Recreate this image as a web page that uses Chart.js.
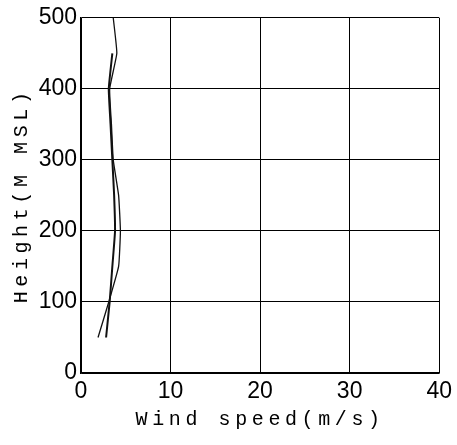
<!DOCTYPE html>
<html>
<head>
<meta charset="utf-8">
<script src="https://cdn.jsdelivr.net/npm/chart.js@4.4.1/dist/chart.umd.min.js"></script>
<style>
  html, body { margin: 0; padding: 0; background: #fff; }
  #wrap { width: 457px; height: 445px; }
</style>
</head>
<body>
<div id="wrap"><canvas id="windChart" width="457" height="445"></canvas></div>
<script>
// wind profile data
var heights1 = [500, 450, 400, 350, 300, 250, 200, 150, 100, 50];
var speeds1 = [3.6, 4.0, 3.2, 3.4, 3.6, 4.2, 4.4, 4.2, 3.1, 1.9];
var heights2 = [450, 400, 350, 300, 250, 200, 150, 100, 50];
var speeds2 = [3.5, 3.1, 3.3, 3.5, 3.7, 3.8, 3.5, 3.2, 2.8];

var xTicks = [0, 10, 20, 30, 40];
var yTicks = [0, 100, 200, 300, 400, 500];

function toPoints(speeds, heights) {
  return speeds.map(function (s, i) { return { x: s, y: heights[i] }; });
}

// spaced lettering for the axis titles only (labels are drawn later, at z=1)
var spacing = {
  id: 'spacing',
  beforeDraw: function (chart) { chart.ctx.letterSpacing = '4.6px'; },
  beforeDatasetsDraw: function (chart) { chart.ctx.letterSpacing = '0px'; }
};

var ctx = document.getElementById('windChart').getContext('2d');
var windChart = new Chart(ctx, {
  type: 'scatter',
  data: {
    datasets: [
      {
        label: 'Profile 1',
        data: toPoints(speeds1, heights1),
        showLine: true,
        borderColor: '#111',
        borderWidth: 1.3,
        pointRadius: 0,
        tension: 0.12
      },
      {
        label: 'Profile 2',
        data: toPoints(speeds2, heights2),
        showLine: true,
        borderColor: '#111',
        borderWidth: 2,
        pointRadius: 0,
        tension: 0.12
      }
    ]
  },
  options: {
    responsive: false,
    animation: false,
    layout: { padding: { top: 13, right: 16, left: 0, bottom: 0 } },
    plugins: { legend: { display: false }, tooltip: { enabled: false } },
    scales: {
      x: {
        type: 'linear',
        min: 0,
        max: 40,
        afterBuildTicks: function (scale) {
          scale.ticks = xTicks.map(function (v) { return { value: v }; });
        },
        afterFit: function (scale) { scale.height = 72; },
        grid: { color: '#000', lineWidth: 1, drawTicks: false },
        border: { color: '#000', width: 1.5 },
        ticks: {
          z: 1,
          padding: 5,
          color: '#000',
          maxRotation: 0,
          font: { family: 'Liberation Sans', size: 23 }
        },
        title: {
          display: true,
          text: 'Wind speed(m/s)',
          color: '#000',
          padding: { top: 0, bottom: 13 },
          font: { family: 'Liberation Mono', size: 20 }
        }
      },
      y: {
        type: 'linear',
        min: 0,
        max: 500,
        afterBuildTicks: function (scale) {
          scale.ticks = yTicks.map(function (v) { return { value: v }; });
        },
        afterFit: function (scale) { scale.width = 81; },
        grid: { color: '#000', lineWidth: 1, drawTicks: false },
        border: { color: '#000', width: 1.5 },
        ticks: {
          z: 1,
          padding: 4,
          color: '#000',
          font: { family: 'Liberation Sans', size: 23 }
        },
        title: {
          display: true,
          text: 'Height(M MSL)',
          color: '#000',
          padding: { top: 10, bottom: 0 },
          font: { family: 'Liberation Mono', size: 20 }
        }
      }
    }
  },
  plugins: [spacing]
});
</script>
</body>
</html>
